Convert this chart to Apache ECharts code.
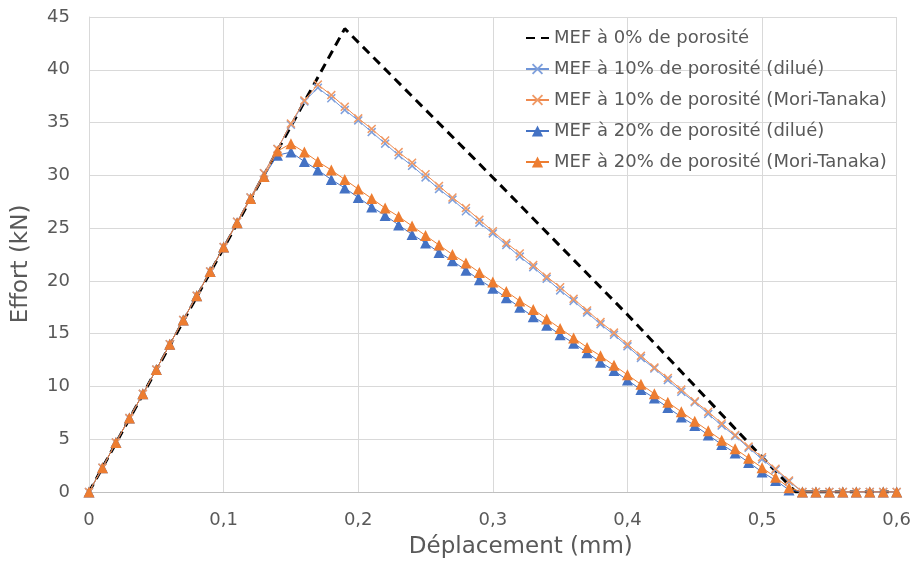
<!DOCTYPE html>
<html>
<head>
<meta charset="utf-8">
<script src="https://cdn.jsdelivr.net/npm/echarts@6/dist/echarts.min.js"></script>
<style>html,body{margin:0;padding:0;background:#fff}#c{width:914px;height:564px}</style>
</head>
<body>
<div id="c"></div>
<script>
// Déplacement (mm)
var xs = [0,0.01,0.02,0.03,0.04,0.05,0.06,0.07,0.08,0.09,0.10,0.11,0.12,0.13,0.14,0.15,0.16,0.17,0.18,0.19,0.20,
  0.21,0.22,0.23,0.24,0.25,0.26,0.27,0.28,0.29,0.30,0.31,0.32,0.33,0.34,0.35,0.36,0.37,0.38,0.39,0.40,
  0.41,0.42,0.43,0.44,0.45,0.46,0.47,0.48,0.49,0.50,0.51,0.52,0.53,0.54,0.55,0.56,0.57,0.58,0.59,0.60];

// MEF 0% (key points of the dashed line)
var x0 = [0, 0.19, 0.30, 0.40, 0.50, 0.525, 0.60];
var y0 = [0, 43.9, 29.8, 16.8, 3.3, 0, 0];

var y10d = [0,2.3,4.7,7.0,9.3,11.6,14.0,16.3,18.6,20.9,23.2,25.6,27.9,30.2,32.5,34.8,37.0,38.3,37.3,36.2,35.2,
  34.1,33.0,31.9,30.9,29.8,28.7,27.7,26.6,25.5,24.5,23.4,22.3,21.3,20.2,19.1,18.1,17.0,15.9,14.9,13.8,
  12.7,11.7,10.6,9.5,8.5,7.4,6.3,5.3,4.2,3.1,2.1,1.0,0,0,0,0,0,0,0,0];
var y10m = [0,2.3,4.7,7.0,9.3,11.6,14.0,16.3,18.6,20.9,23.2,25.6,27.9,30.2,32.5,34.9,37.1,38.6,37.6,36.5,35.4,
  34.4,33.3,32.2,31.2,30.1,29.0,27.9,26.9,25.8,24.7,23.6,22.6,21.5,20.4,19.4,18.3,17.2,16.1,15.1,14.0,
  12.9,11.8,10.8,9.7,8.6,7.6,6.5,5.4,4.3,3.3,2.2,1.1,0,0,0,0,0,0,0,0];
var y20d = [0,2.3,4.7,7.0,9.3,11.6,14.0,16.3,18.6,20.9,23.2,25.5,27.8,29.9,31.9,32.2,31.3,30.5,29.6,28.8,27.9,
  27.0,26.2,25.3,24.4,23.6,22.7,21.9,21.0,20.1,19.3,18.4,17.5,16.6,15.8,14.9,14.1,13.2,12.3,11.5,10.6,
  9.7,8.9,8.0,7.1,6.3,5.4,4.5,3.7,2.8,1.9,1.1,0.2,0,0,0,0,0,0,0,0];
var y20m = [0,2.3,4.7,7.0,9.3,11.6,14.0,16.3,18.6,20.9,23.2,25.5,27.8,29.9,32.3,33.0,32.2,31.3,30.5,29.6,28.7,
  27.8,26.9,26.1,25.2,24.3,23.4,22.5,21.7,20.8,19.9,19.0,18.1,17.3,16.4,15.5,14.6,13.7,12.9,12.0,11.1,
  10.2,9.3,8.5,7.6,6.7,5.8,4.9,4.1,3.2,2.3,1.4,0.4,0,0,0,0,0,0,0,0];

var names = ['MEF à 0% de porosité','MEF à 10% de porosité (dilué)','MEF à 10% de porosité (Mori-Tanaka)',
  'MEF à 20% de porosité (dilué)','MEF à 20% de porosité (Mori-Tanaka)'];
var xTicks = ['0','0,1','0,2','0,3','0,4','0,5','0,6'];

function pairs(xa, ya){ return xa.map(function(x,i){ return [x, ya[i]]; }); }
var cross = 'path://M0,1.2L1.2,0L5,3.8L8.8,0L10,1.2L6.2,5L10,8.8L8.8,10L5,6.2L1.2,10L0,8.8L3.8,5Z';
var FONT = 'DejaVu Sans';
var GREY = '#595959';

var chart = echarts.init(document.getElementById('c'), null, {renderer:'canvas'});
chart.setOption({
  animation:false,
  textStyle:{fontFamily:FONT},
  grid:{left:89, right:17, top:17, bottom:72, containLabel:false},
  xAxis:{type:'value', min:0, max:0.6, interval:0.1,
    name:'Déplacement (mm)', nameLocation:'middle', nameGap:44,
    nameTextStyle:{fontSize:23, color:GREY, fontFamily:FONT, padding:[0,0,0,56]},
    axisLine:{lineStyle:{color:'#bfbfbf', width:1}}, axisTick:{show:false},
    axisLabel:{fontSize:18, color:GREY, margin:19, fontFamily:FONT,
      formatter:function(v){ return xTicks[Math.round(v*10)]; }},
    splitLine:{show:true, lineStyle:{color:'#d9d9d9', width:1}}},
  yAxis:{type:'value', min:0, max:45, interval:5,
    name:'Effort (kN)', nameLocation:'middle', nameGap:56,
    nameTextStyle:{fontSize:23, color:GREY, fontFamily:FONT, padding:[0,19,0,0]},
    axisLine:{show:true, lineStyle:{color:'#d9d9d9', width:1}}, axisTick:{show:false},
    axisLabel:{fontSize:18, color:GREY, margin:19, fontFamily:FONT},
    splitLine:{show:true, lineStyle:{color:'#d9d9d9', width:1}}},
  legend:{orient:'vertical', left:520, top:24, itemWidth:23, itemHeight:14, itemGap:13,
    textStyle:{fontSize:18, lineHeight:18, color:GREY, fontFamily:FONT},
    data:names},
  series:[
    {name:names[0], type:'line', data:pairs(x0,y0), symbol:'none', z:1,
      lineStyle:{color:'#000', width:3, type:[9,6]}, itemStyle:{color:'rgba(0,0,0,0)'}},
    {name:names[1], type:'line', data:pairs(xs,y10d), symbol:cross, symbolSize:9, z:2,
      lineStyle:{color:'#6f95d8', width:1}, itemStyle:{color:'#7fa0dc'}},
    {name:names[2], type:'line', data:pairs(xs,y10m), symbol:cross, symbolSize:9, z:3,
      lineStyle:{color:'#ef8a4f', width:1}, itemStyle:{color:'#f09a66'}},
    {name:names[3], type:'line', data:pairs(xs,y20d), symbol:'triangle', symbolSize:11, z:3,
      lineStyle:{color:'#4472c4', width:1}, itemStyle:{color:'#4472c4'}},
    {name:names[4], type:'line', data:pairs(xs,y20m), symbol:'triangle', symbolSize:11, z:4,
      lineStyle:{color:'#ed7d31', width:1}, itemStyle:{color:'#ed7d31'}}
  ]
});
</script>
</body>
</html>
